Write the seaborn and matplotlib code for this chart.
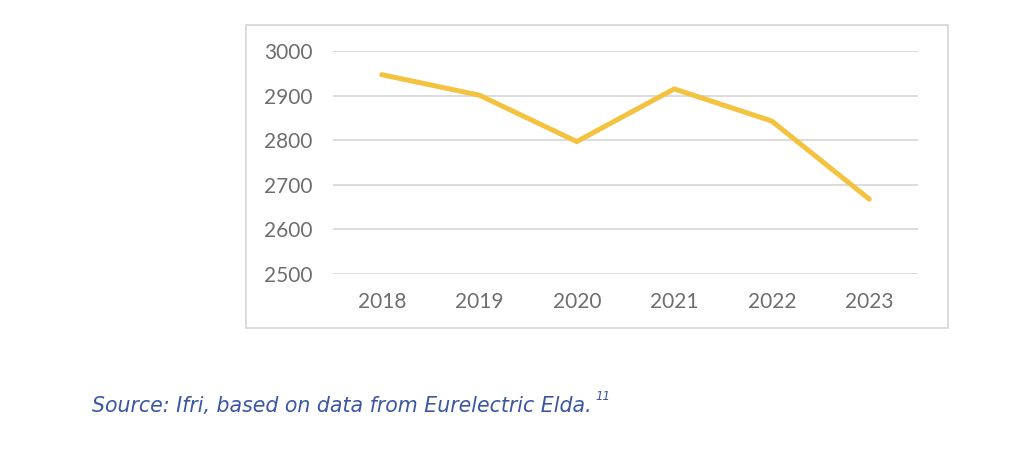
import pandas as pd
import seaborn as sns
import matplotlib.pyplot as plt
from matplotlib.patches import Rectangle

# Chart values
years = ['2018', '2019', '2020', '2021', '2022', '2023']
values = [2947, 2901, 2797, 2915, 2843, 2668]
y_ticks = [2500, 2600, 2700, 2800, 2900, 3000]

df = pd.DataFrame({'Year': years, 'Value': values})

sns.set_style("white")
plt.rcParams['font.family'] = ['Lato', 'DejaVu Sans']

fig = plt.figure(figsize=(10.24, 4.58), dpi=100)

# Outer frame around the chart
fig.patches.append(Rectangle((0.2402, 0.2838), 0.6855, 0.6616, transform=fig.transFigure,
                             fill=False, edgecolor='#d9d9d9', linewidth=1.3))

ax = fig.add_axes([0.3252, 0.4017, 0.5713, 0.4869])
sns.lineplot(data=df, x='Year', y='Value', color='#f3c23f', linewidth=3.6,
             solid_capstyle='round', solid_joinstyle='miter', sort=False, ax=ax)

ax.set_ylim(2500, 3000)
ax.set_xlim(-0.5, 5.5)
ax.set_yticks(y_ticks)
ax.yaxis.grid(True, color='#d9d9d9', linewidth=1.3)
ax.xaxis.grid(False)
ax.set_axisbelow(True)
for s in ax.spines.values():
    s.set_visible(False)
ax.set_xlabel('')
ax.set_ylabel('')
ax.tick_params(axis='both', length=0, labelsize=15, labelcolor='#6e6e6e')
ax.tick_params(axis='y', pad=14.5)
ax.tick_params(axis='x', pad=13)

fig.text(0.0898, 0.1, 'Source: Ifri, based on data from Eurelectric Elda.',
         family='DejaVu Sans', style='italic', fontsize=14.8, color='#3b56a3')
fig.text(0.5815, 0.127, '11', family='DejaVu Sans', style='italic',
         fontsize=8.5, color='#3b56a3')

fig.savefig('out.png', dpi=100)
